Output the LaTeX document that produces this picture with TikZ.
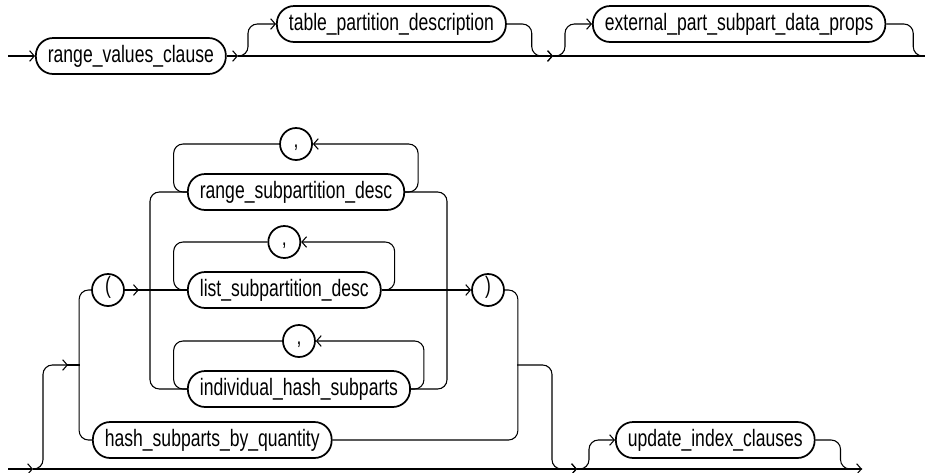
\documentclass[tikz,border=0pt]{standalone}
\usepackage{fontspec}
\setmainfont{Liberation Sans}[FakeStretch=0.74]
\usepackage{tikz}
\usetikzlibrary{arrows.meta}

\begin{document}
\begin{tikzpicture}[x=0.75pt, y=-0.75pt,
  rail/.style={line width=0.8pt, rounded corners=7pt},
  railarrow/.style={-{Straight Barb[length=3.5pt,width=8pt]}},
  term/.style={draw, line width=1.3pt, rounded corners=13pt,
    minimum height=27pt, inner xsep=9pt, inner ysep=0pt,
    font=\fontsize{17.8}{20}\selectfont, anchor=west},
  sym/.style={draw, circle, line width=1.3pt, minimum size=24pt,
    inner sep=0pt, text height=0.72em, text depth=0.2em,
    font=\fontsize{17.8}{20}\selectfont}]

\useasboundingbox (0,0) rectangle (925,472);

% Top row
\coordinate (start) at (8,56);
\coordinate (j1) at (238,56);
\coordinate (j2) at (553,56);
\coordinate (stop) at (925,56);
\node[term] (rvc) at (35,56) {range\_values\_clause};
\node[term] (tpd) at (276,24) {table\_partition\_description};
\node[term] (epsdp) at (592,24) {external\_part\_subpart\_data\_props};

\draw[rail,railarrow] (start) -- (rvc);
\draw[rail,railarrow] (rvc) -- (j1);
\draw[rail,railarrow] (j1) -- (j2);
\draw[rail] (j2) -- (stop);
\draw[rail,railarrow] (j1) -- ++(10,0) |- (tpd);
\draw[rail,railarrow] (tpd.east) -- ++(25,0) |- (j2);
\draw[rail,railarrow] (j2) -- ++(12,0) |- (epsdp);
\draw[rail] (epsdp.east) -- ++(27,0) |- (stop);

% Subpartition choices
\node[sym] (lp) at (108,290) {(};
\node[sym] (rp) at (488,290) {)};
\node[term] (rsd) at (187,192) {range\_subpartition\_desc};
\node[term] (lsd) at (187,290) {list\_subpartition\_desc};
\node[term] (ihs) at (187,389) {individual\_hash\_subparts};
\node[term] (hbq) at (92,440) {hash\_subparts\_by\_quantity};
\node[sym] (c1) at ([yshift=36pt]rsd.center) {,};
\node[sym] (c2) at ([yshift=36pt]lsd.center) {,};
\node[sym] (c3) at ([yshift=36pt]ihs.center) {,};

% Comma loops
\draw[rail,railarrow] (rsd.east) -- ++(13,0) |- (c1);
\draw[rail] (c1) -| ([xshift=-10pt]rsd.west) -- (rsd.west);
\draw[rail,railarrow] (lsd.east) -- ++(13,0) |- (c2);
\draw[rail] (c2) -| ([xshift=-10pt]lsd.west) -- (lsd.west);
\draw[rail,railarrow] (ihs.east) -- ++(13,0) |- (c3);
\draw[rail] (c3) -| ([xshift=-10pt]ihs.west) -- (ihs.west);

% Outer rails
\coordinate (lr) at (150,290);
\coordinate (rr) at (447,290);
\draw[rail] (rsd.west) -| (lr) |- (ihs.west);
\draw[rail] (rsd.east) -| (rr) |- (ihs.east);
\draw[rail] (lp) -- (lsd);
\draw[rail,railarrow] (lp.east) -- ++(14,0);
\draw[rail,railarrow] (lsd) -- (rp);
\draw[rail] (lp.west) -- ++(-12,0) |- (hbq);
\draw[rail] (rp.east) -- ++(13,0) |- (hbq);

% Bottom row
\coordinate (ljn) at (80,365);
\coordinate (rjn) at (517,365);
\coordinate (bstart) at (8,469);
\coordinate (b1) at (33,469);
\coordinate (b2) at (577,469);
\coordinate (bstop) at (862,469);
\node[term] (uic) at (615,440) {update\_index\_clauses};

\draw[rail,railarrow] (bstart) -- (b1);
\draw[rail,railarrow] (b1) -- (b2);
\draw[rail,railarrow] (b2) -- (bstop);
\draw[rail,railarrow] (b1) -- ++(10,0) |- ([xshift=-9pt]ljn);
\draw[rail] ([xshift=-10pt]ljn) -- (ljn);
\draw[rail,railarrow] (rjn) -- ++(35,0) |- (b2);
\draw[rail,railarrow] (b2) -- ++(12,0) |- (uic);
\draw[rail] (uic.east) -- ++(25,0) |- (bstop);

\end{tikzpicture}
\end{document}
